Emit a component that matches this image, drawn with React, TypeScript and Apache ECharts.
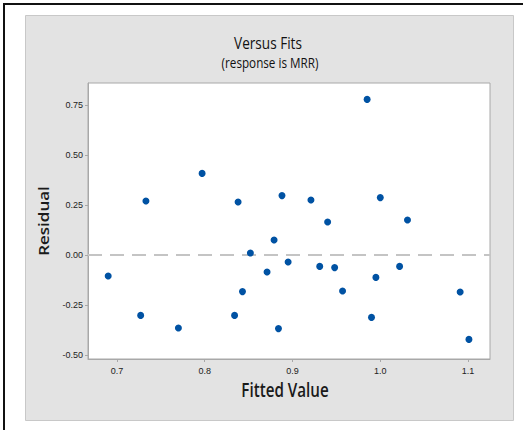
import React, { useEffect, useRef } from "react";
import * as echarts from "echarts";

const fittedValues = [
  0.690, 0.733, 0.727, 0.770, 0.797, 0.838, 0.834, 0.843, 0.852, 0.871,
  0.879, 0.884, 0.888, 0.895, 0.921, 0.940, 0.931, 0.948, 0.957, 0.985,
  0.990, 0.995, 1.000, 1.022, 1.031, 1.091, 1.101,
];
const residuals = [
  -0.105, 0.270, -0.302, -0.365, 0.408, 0.265, -0.302, -0.183, 0.010, -0.085,
  0.075, -0.368, 0.297, -0.035, 0.275, 0.165, -0.057, -0.063, -0.180, 0.778,
  -0.312, -0.112, 0.287, -0.057, 0.175, -0.185, -0.422,
];
const xTicks = [0.7, 0.8, 0.9, 1.0, 1.1];
const yTicks = [-0.5, -0.25, 0, 0.25, 0.5, 0.75];
const xRange = [0.667, 1.125];
const yRange = [-0.52, 0.86];
const referenceLevel = 0;

const FONT = "'Liberation Sans', Arial, sans-serif";
const NAME_FONT = "'Open Sans', 'Liberation Sans', sans-serif";

export default function App() {
  const ref = useRef<HTMLDivElement>(null);
  useEffect(() => {
    if (!ref.current) return;
    const chart = echarts.init(ref.current, null, { renderer: "svg" });
    chart.setOption({
      animation: false,
      backgroundColor: "#ffffff",
      graphic: [
        {
          type: "rect",
          shape: { x: 4, y: 4, width: 540, height: 450 },
          style: { fill: "#ffffff", stroke: "#111111", lineWidth: 2 },
          z: -10,
        },
        {
          type: "rect",
          shape: { x: 25.5, y: 15.5, width: 488, height: 405 },
          style: { fill: "#e3e3e3", stroke: "#c8c8c8", lineWidth: 1 },
          z: -9,
        },
        {
          type: "text",
          x: 268,
          y: 43,
          scaleX: 0.8,
          style: {
            text: "Versus Fits",
            fontFamily: NAME_FONT,
            fontSize: 17,
            fontWeight: 500,
            fill: "#111111",
            align: "center",
            verticalAlign: "middle",
          },
        },
        {
          type: "text",
          x: 270,
          y: 62,
          scaleX: 0.78,
          style: {
            text: "(response is MRR)",
            fontFamily: NAME_FONT,
            fontSize: 15,
            fill: "#111111",
            align: "center",
            verticalAlign: "middle",
          },
        },
        {
          type: "text",
          x: 285,
          y: 390,
          scaleX: 0.8,
          style: {
            text: "Fitted Value",
            fontFamily: NAME_FONT,
            fontSize: 19,
            fontWeight: 600,
            fill: "#1a1a1a",
            align: "center",
            verticalAlign: "middle",
          },
        },
        {
          type: "text",
          x: 44,
          y: 221,
          rotation: Math.PI / 2,
          scaleY: 0.82,
          style: {
            text: "Residual",
            fontFamily: NAME_FONT,
            fontSize: 17,
            fontWeight: 600,
            fill: "#1a1a1a",
            align: "center",
            verticalAlign: "middle",
          },
        },
      ],
      grid: {
        left: 88,
        top: 83,
        width: 402,
        height: 276,
        show: true,
        backgroundColor: "#ffffff",
        borderColor: "#a8a8a8",
        borderWidth: 1,
      },
      xAxis: {
        type: "value",
        min: xRange[0],
        max: xRange[1],
        axisLine: { show: true, onZero: false, lineStyle: { color: "#a8a8a8", width: 1 } },
        axisTick: { show: true, length: 3, customValues: xTicks, lineStyle: { color: "#a8a8a8" } },
        axisLabel: {
          customValues: xTicks,
          formatter: (v: number) => v.toFixed(1),
          fontFamily: FONT,
          fontSize: 9,
          color: "#222222",
          margin: 7,
        },
        splitLine: { show: false },
      },
      yAxis: {
        type: "value",
        min: yRange[0],
        max: yRange[1],
        axisLine: { show: true, onZero: false, lineStyle: { color: "#a8a8a8", width: 1 } },
        axisTick: { show: true, length: 3, customValues: yTicks, lineStyle: { color: "#a8a8a8" } },
        axisLabel: {
          customValues: yTicks,
          formatter: (v: number) => v.toFixed(2),
          fontFamily: FONT,
          fontSize: 9,
          color: "#222222",
          margin: 5,
        },
        splitLine: { show: false },
      },
      series: [
        {
          type: "line",
          data: [
            [xRange[0], referenceLevel],
            [xRange[1], referenceLevel],
          ],
          symbol: "none",
          silent: true,
          lineStyle: { color: "#c4c4c4", type: [14, 8], width: 2 },
          z: 1,
        },
        {
          type: "scatter",
          data: fittedValues.map((x, i) => [x, residuals[i]]),
          symbol: "circle",
          symbolSize: 7,
          itemStyle: { color: "#0052a3", opacity: 1 },
          z: 2,
        },
      ],
    });
    return () => chart.dispose();
  }, []);
  return (
    <div
      ref={ref}
      style={{ position: "fixed", left: 0, top: 0, width: 523, height: 430 }}
    />
  );
}
